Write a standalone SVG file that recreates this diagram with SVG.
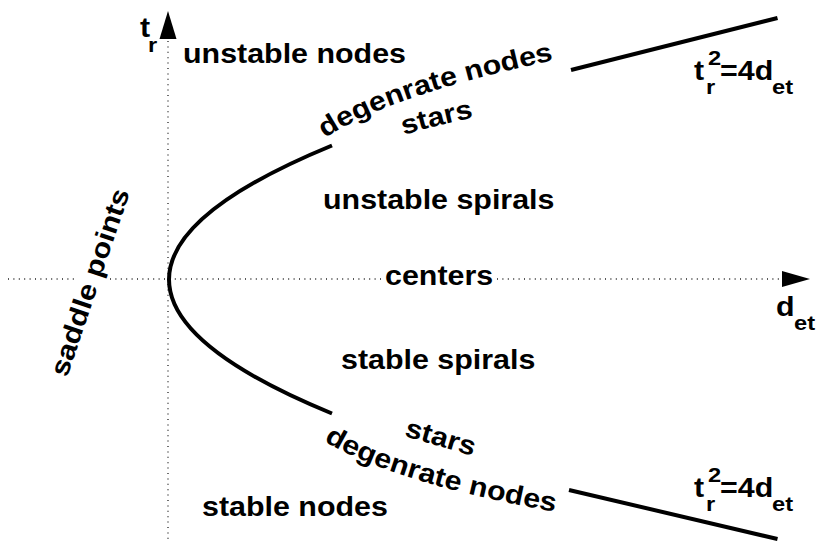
<svg xmlns="http://www.w3.org/2000/svg" width="819" height="545" viewBox="0 0 819 545">
<style>
.t{font-family:"Liberation Sans",Arial,sans-serif;font-weight:bold;font-size:27px;fill:#000}
.s{font-family:"Liberation Sans",Arial,sans-serif;font-weight:bold;font-size:21px;fill:#000}
.ax{stroke:#222;stroke-width:1.3;stroke-dasharray:1 4.4;fill:none}
.cv{stroke:#000;stroke-width:4;fill:none}
</style>
<defs>
<path id="pu1" d="M325,138 Q395,92 570,57"/>
<path id="pu2" d="M404,135 Q440,124 482,116"/>
<path id="pl1" d="M324,441 Q395,484 572,515"/>
<path id="pl2" d="M404,436 Q440,446 482,459"/>
</defs>
<rect width="819" height="545" fill="#fff"/>
<g id="connectors">
<g id="axes">
<path class="ax" d="M8,279 H78 M110,279 H383 M497,279 H782"/>
<path class="ax" d="M168,41 V541"/>
<polygon points="810,279 782,271 782,287" fill="#000"/>
<polygon points="168,11 159.5,39 176.5,39" fill="#000"/>
</g>
<g id="curve">
<path class="cv" d="M332,145.5 Q6,279.5 332,413.5"/>
<path class="cv" d="M571,70 L777.5,18"/>
<path class="cv" d="M569,490 L777.5,539"/>
</g>
</g>
<g id="axis-labels">
<text class="t" transform="translate(140,37) scale(1.126,1)">t</text>
<text class="s" transform="translate(148,52) scale(1.126,1)">r</text>
<text class="t" transform="translate(776,316) scale(1.126,1)">d</text>
<text class="s" transform="translate(794,330) scale(1.126,1)">et</text>
</g>
<g id="region-labels">
<text class="t" transform="translate(183,63) scale(1.126,1)">unstable nodes</text>
<text class="t" transform="translate(323,209) scale(1.126,1)">unstable spirals</text>
<text class="t" transform="translate(385,285) scale(1.126,1)">centers</text>
<text class="t" transform="translate(341,369) scale(1.126,1)">stable spirals</text>
<text class="t" transform="translate(202,516) scale(1.126,1)">stable nodes</text>
<text class="t" transform="translate(67,378) rotate(-71.3) scale(1.126,1)">saddle points</text>
<text class="t"><textPath href="#pu1" textLength="243" lengthAdjust="spacingAndGlyphs">degenrate nodes</textPath></text>
<text class="t"><textPath href="#pu2" textLength="72" lengthAdjust="spacingAndGlyphs">stars</textPath></text>
<text class="t"><textPath href="#pl1" textLength="243" lengthAdjust="spacingAndGlyphs">degenrate nodes</textPath></text>
<text class="t"><textPath href="#pl2" textLength="72" lengthAdjust="spacingAndGlyphs">stars</textPath></text>
</g>
<g id="eq-upper">
<text class="t" transform="translate(694,80) scale(1.126,1)">t</text>
<text class="s" transform="translate(708,65) scale(1.126,1)">2</text>
<text class="s" transform="translate(706,94) scale(1.126,1)">r</text>
<text class="t" transform="translate(720,80) scale(1.126,1)">=4d</text>
<text class="s" transform="translate(772,94) scale(1.126,1)">et</text>
</g>
<g id="eq-lower">
<text class="t" transform="translate(694,497) scale(1.126,1)">t</text>
<text class="s" transform="translate(708,482) scale(1.126,1)">2</text>
<text class="s" transform="translate(706,511) scale(1.126,1)">r</text>
<text class="t" transform="translate(720,497) scale(1.126,1)">=4d</text>
<text class="s" transform="translate(772,511) scale(1.126,1)">et</text>
</g>
</svg>
